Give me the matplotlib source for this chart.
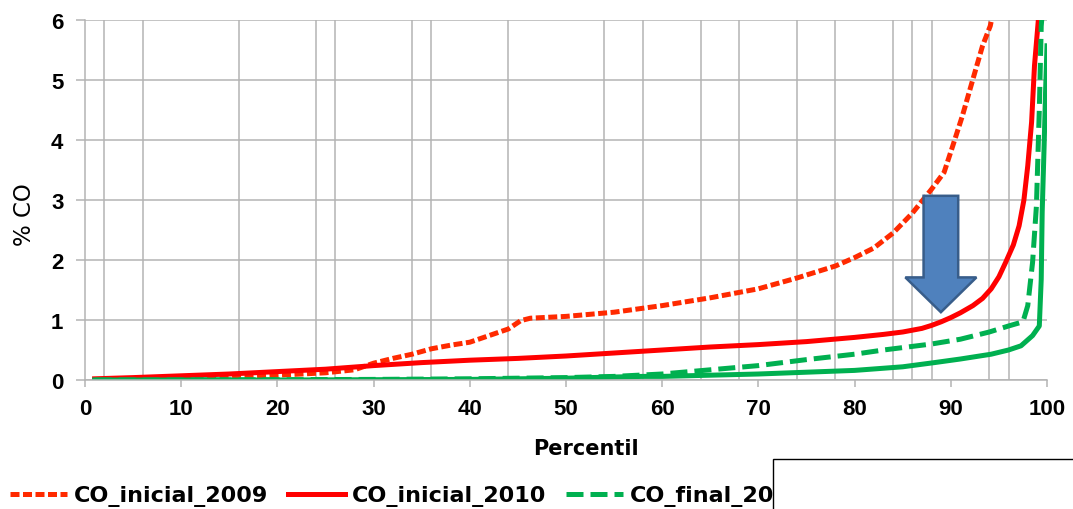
import matplotlib
matplotlib.use("Agg")
import matplotlib.pyplot as plt
from matplotlib.patches import FancyArrow, Rectangle

# percentile curves
x_ini_2009 = [1, 5, 10, 15, 20, 25, 28, 30, 32, 34, 36, 38, 40, 42, 44, 45.3, 46.3, 50, 55, 60,
              65, 70, 74, 78, 80, 82, 84, 86, 88, 89.3, 90.2, 91.2, 92.4, 93.3, 94.1, 94.5]
y_ini_2009 = [0, 0, 0.01, 0.04, 0.08, 0.12, 0.17, 0.28, 0.36, 0.43, 0.52, 0.58, 0.63, 0.74, 0.85, 0.99, 1.03, 1.06, 1.13, 1.24,
              1.37, 1.52, 1.7, 1.9, 2.04, 2.2, 2.45, 2.78, 3.18, 3.46, 3.9, 4.4, 5.07, 5.57, 5.9, 6.2]

x_ini_2010 = [1, 5, 10, 15, 20, 25, 30, 35, 40, 45, 50, 55, 60, 65, 70, 75, 80, 83, 85, 87, 88, 89, 90,
              91, 92.3, 93.3, 94.2, 95, 95.7, 96.5, 97.1, 97.6, 98, 98.4, 98.7, 99.1, 99.3]
y_ini_2010 = [0.02, 0.04, 0.07, 0.1, 0.14, 0.18, 0.24, 0.29, 0.33, 0.36, 0.40, 0.45, 0.5, 0.55, 0.59, 0.64, 0.71, 0.76, 0.8, 0.86, 0.91, 0.97, 1.04,
              1.12, 1.24, 1.36, 1.52, 1.72, 1.96, 2.25, 2.57, 3.0, 3.57, 4.3, 5.24, 6.0, 6.4]

x_fin_2009 = [1, 10, 20, 30, 40, 50, 55, 60, 65, 70, 75, 80, 83, 88, 91, 94, 96, 97.5, 98, 98.5, 98.9, 99.2, 99.4, 99.6]
y_fin_2009 = [0, 0, 0.005, 0.01, 0.02, 0.04, 0.06, 0.1, 0.17, 0.24, 0.34, 0.43, 0.5, 0.6, 0.68, 0.8, 0.9, 0.97, 1.24, 1.96, 2.9, 4.5, 5.9, 6.3]

x_fin_2010 = [1, 10, 20, 30, 40, 50, 55, 58, 60, 65, 70, 75, 80, 85, 88.3, 91, 94.2, 96, 97.3, 98.5, 99.2, 99.4, 99.5, 99.7, 99.85, 100]
y_fin_2010 = [0, 0, 0, 0.005, 0.01, 0.03, 0.05, 0.06, 0.06, 0.08, 0.1, 0.13, 0.16, 0.22, 0.29, 0.35, 0.43, 0.5, 0.57, 0.74, 0.9, 1.68, 2.8, 3.9, 4.8, 5.57]

labels = ["CO_inicial_2009", "CO_inicial_2010", "CO_final_2009", "CO_final_2010"]

# vertical grid lines sit at uneven places in the original
x_grid = [2, 6, 10, 16, 24, 26, 30, 34, 36, 40, 44, 50, 54, 58, 64, 68, 70, 74, 78, 80,
          84, 86, 88, 90, 94, 96, 100]
x_ticks = list(range(0, 101, 10))
y_ticks = list(range(0, 7))

# block arrow (data units)
arrow_x = 88.97
arrow_top = 3.07
arrow_tip = 1.13

RED = "#FF0000"
RED2 = "#FF2A00"
GREEN = "#00B050"
GRID = "#B4B4B4"

fig = plt.figure(figsize=(10.73, 5.10), dpi=100)
ax = fig.add_axes([85 / 1073, 129 / 510, 962 / 1073, 360 / 510])

ax.plot(x_ini_2009, y_ini_2009, color=RED2, lw=3.6, ls=(0, (1.8, 0.7)), label=labels[0])
ax.plot(x_ini_2010, y_ini_2010, color=RED, lw=3.6, label=labels[1])
ax.plot(x_fin_2009, y_fin_2009, color=GREEN, lw=3.6, ls=(0, (3.4, 1.4)), label=labels[2])
ax.plot(x_fin_2010, y_fin_2010, color=GREEN, lw=3.6, label=labels[3])

ax.set_xlim(0, 100)
ax.set_ylim(0, 6)

ax.set_xticks(x_ticks)
ax.set_yticks(y_ticks)
ax.set_xticks(x_grid, minor=True)
ax.grid(which="minor", axis="x", color=GRID, lw=1.1)
ax.grid(which="major", axis="y", color=GRID, lw=1.1)
ax.set_axisbelow(True)
ax.tick_params(which="minor", length=0)
ax.tick_params(axis="x", which="major", length=5, width=1.1, color=GRID, pad=8)
ax.tick_params(axis="y", which="major", length=6.5, width=1.1, color=GRID, pad=9)
for lab in ax.get_xticklabels() + ax.get_yticklabels():
    lab.set_fontfamily("Liberation Sans")
    lab.set_fontweight("bold")
    lab.set_fontsize(16)

for side in ["top", "right"]:
    ax.spines[side].set_visible(False)
for side in ["left", "bottom"]:
    ax.spines[side].set_color(GRID)
    ax.spines[side].set_linewidth(1.1)

ax.set_xlabel("Percentil", fontsize=15, fontweight="bold", va="center")
ax.xaxis.set_label_coords(0.521, -0.189)
ax.set_ylabel("% CO", fontsize=16.5, va="center")
ax.yaxis.set_label_coords(-0.0634, 0.461)

arr = FancyArrow(arrow_x, arrow_top, 0, arrow_tip - arrow_top, width=3.6, head_width=7.39,
                 head_length=0.58, length_includes_head=True,
                 facecolor="#4F81BD", edgecolor="#385D8A", lw=1.8, zorder=5, clip_on=False)
ax.add_patch(arr)

fig.legend(loc="center left", bbox_to_anchor=(10 / 1073, 13 / 510), ncol=4, frameon=False,
           prop={"weight": "bold", "size": 16}, handlelength=2.57, handletextpad=0.3,
           columnspacing=0.9, borderpad=0, borderaxespad=0)

# white box covering the end of the legend
box = Rectangle((773 / 1073, -0.1), 0.5, 0.1 + 50 / 510, transform=fig.transFigure,
                facecolor="white", edgecolor="black", lw=1, zorder=10)
fig.add_artist(box)

fig.savefig("out.png", dpi=100)
